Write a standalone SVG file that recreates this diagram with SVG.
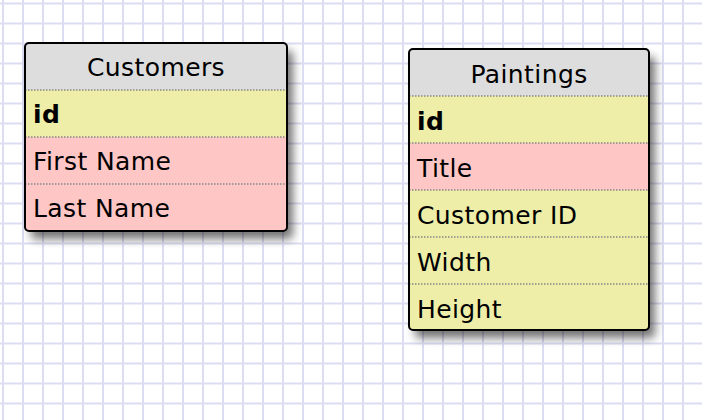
<svg xmlns="http://www.w3.org/2000/svg" width="702" height="420" viewBox="0 0 702 420">
<defs>
<pattern id="grid" x="2" y="2.5" width="20" height="20" patternUnits="userSpaceOnUse">
<path d="M1 0V20M0 1H20" stroke="#dcdcf2" stroke-width="2" fill="none"/>
</pattern>
<filter id="sh" x="-20%" y="-20%" width="150%" height="150%">
<feGaussianBlur in="SourceAlpha" stdDeviation="5"/>
<feOffset dx="6" dy="8" result="b"/>
<feComponentTransfer><feFuncA type="linear" slope="0.55"/></feComponentTransfer>
<feMerge><feMergeNode/><feMergeNode in="SourceGraphic"/></feMerge>
</filter>
<clipPath id="c1"><rect x="25" y="43" width="262" height="188" rx="4"/></clipPath>
<clipPath id="c2"><rect x="409" y="49" width="240" height="281" rx="4"/></clipPath>
</defs>
<style>
text{font-family:"DejaVu Sans","Verdana",sans-serif;font-size:25px;letter-spacing:0.4px;fill:#000}
.h{fill:#dddddd}.y{fill:#eeeea9}.p{fill:#ffc6c6}
.sep{stroke:#888;stroke-width:1.5;stroke-dasharray:1.5 1.5;fill:none}
.bd{fill:none;stroke:#000;stroke-width:2}
.t{text-anchor:middle}.b{font-weight:bold}
</style>
<rect width="702" height="420" fill="#fff"/>
<rect width="702" height="420" fill="url(#grid)"/>
<g id="customers">
<rect x="25" y="43" width="262" height="188" rx="4" fill="#fff" filter="url(#sh)"/>
<g clip-path="url(#c1)">
<rect class="h" x="25" y="43" width="262" height="47"/>
<rect class="y" x="25" y="90" width="262" height="47"/>
<rect class="p" x="25" y="137" width="262" height="47"/>
<rect class="p" x="25" y="184" width="262" height="47"/>
</g>
<path class="sep" d="M25 90H287M25 137H287M25 184H287"/>
<rect class="bd" x="25" y="43" width="262" height="188" rx="4"/>
<text class="t" x="156" y="76">Customers</text>
<text class="b" x="33" y="123">id</text>
<text x="33" y="170">First Name</text>
<text x="33" y="217">Last Name</text>
</g>
<g id="paintings">
<rect x="409" y="49" width="240" height="281" rx="4" fill="#fff" filter="url(#sh)"/>
<g clip-path="url(#c2)">
<rect class="h" x="409" y="49" width="240" height="47"/>
<rect class="y" x="409" y="96" width="240" height="47"/>
<rect class="p" x="409" y="143" width="240" height="47"/>
<rect class="y" x="409" y="190" width="240" height="47"/>
<rect class="y" x="409" y="237" width="240" height="47"/>
<rect class="y" x="409" y="284" width="240" height="46"/>
</g>
<path class="sep" d="M409 96H649M409 143H649M409 190H649M409 237H649M409 284H649"/>
<rect class="bd" x="409" y="49" width="240" height="281" rx="4"/>
<text class="t" x="529" y="83">Paintings</text>
<text class="b" x="417" y="130">id</text>
<text x="417" y="177">Title</text>
<text x="417" y="224">Customer ID</text>
<text x="417" y="271">Width</text>
<text x="417" y="318">Height</text>
</g>
<g id="connectors"/>
</svg>
